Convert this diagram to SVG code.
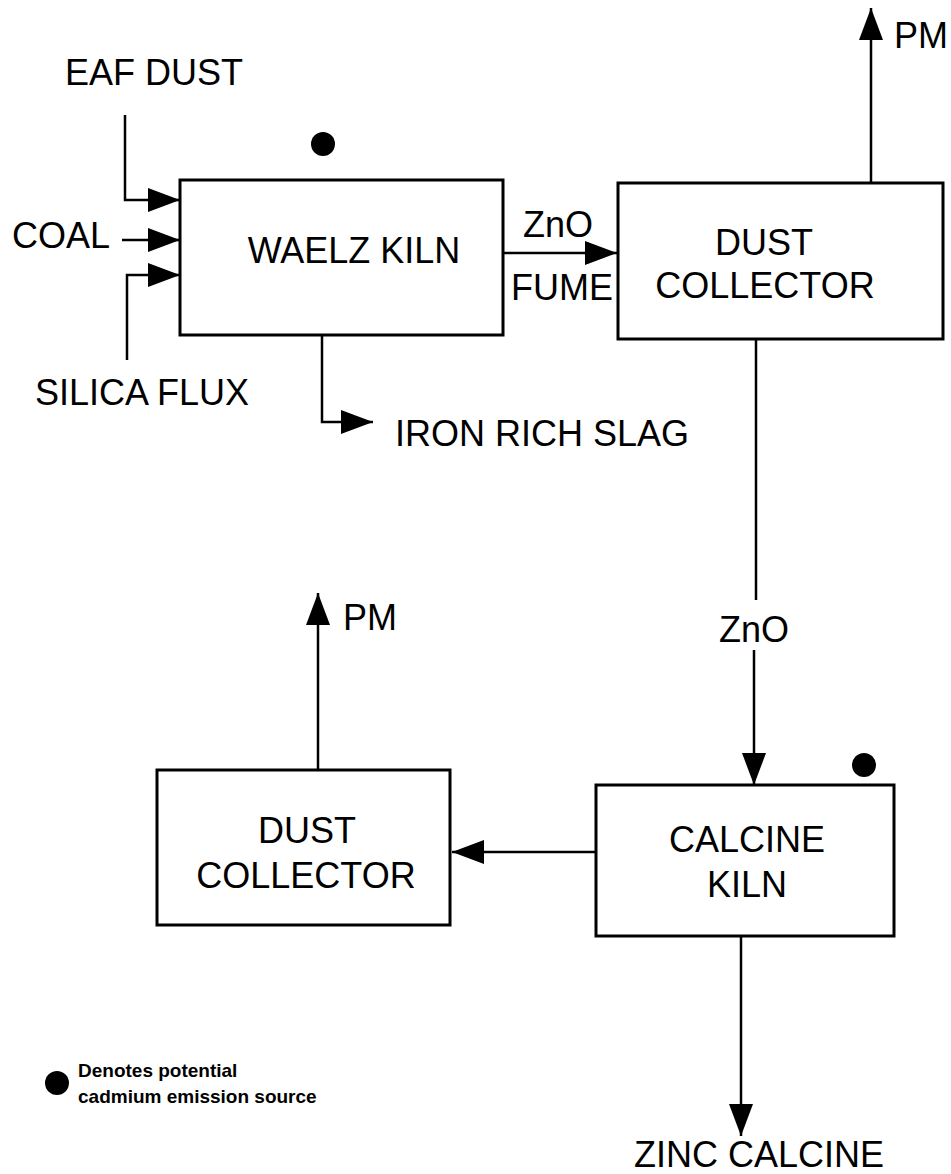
<svg xmlns="http://www.w3.org/2000/svg" width="951" height="1174" viewBox="0 0 951 1174">
<style>
  .box { fill: #fff; stroke: #000; stroke-width: 3; }
  .ln { fill: none; stroke: #000; stroke-width: 2.5; }
  .t { font-family: "Liberation Sans", Arial, sans-serif; font-size: 36px; fill: #000; }
  .c { text-anchor: middle; }
  .leg { font-family: "Liberation Sans", Arial, sans-serif; font-size: 19px; font-weight: bold; fill: #000; }
</style>
<defs>
  <marker id="arr" markerUnits="userSpaceOnUse" markerWidth="33" markerHeight="24" refX="32" refY="12" orient="auto">
    <path d="M0,0 L32,12 L0,24 Z" fill="#000"/>
  </marker>
</defs>
<rect width="951" height="1174" fill="#fff"/>

<g id="connectors">
  <path class="ln" d="M125,115 V200 H180" marker-end="url(#arr)"/>
  <path class="ln" d="M122,240 H180" marker-end="url(#arr)"/>
  <path class="ln" d="M127,360 V275 H180" marker-end="url(#arr)"/>
  <path class="ln" d="M322,335 V422 H373" marker-end="url(#arr)"/>
  <path class="ln" d="M503,253 H617" marker-end="url(#arr)"/>
  <path class="ln" d="M871,183 V8" marker-end="url(#arr)"/>
  <path class="ln" d="M756,340 V600"/>
  <path class="ln" d="M754,650 V785" marker-end="url(#arr)"/>
  <path class="ln" d="M595,852 H452" marker-end="url(#arr)"/>
  <path class="ln" d="M318,770 V593" marker-end="url(#arr)"/>
  <path class="ln" d="M741,936 V1136" marker-end="url(#arr)"/>
</g>

<g id="labels">
  <text class="t" x="65" y="85">EAF DUST</text>
  <text class="t" x="12" y="248">COAL</text>
  <text class="t" x="35" y="405">SILICA FLUX</text>
  <text class="t" x="395" y="446">IRON RICH SLAG</text>
  <text class="t" x="523" y="237">ZnO</text>
  <text class="t" x="511" y="300">FUME</text>
  <text class="t" x="894" y="48">PM</text>
  <text class="t c" x="754" y="642">ZnO</text>
  <text class="t" x="343" y="630">PM</text>
  <text class="t c" x="759" y="1167">ZINC CALCINE</text>
</g>

<g id="waelz-kiln">
  <rect class="box" x="180" y="180" width="323" height="155"/>
  <text class="t c" x="354" y="263">WAELZ KILN</text>
  <circle cx="323" cy="144" r="12" fill="#000"/>
</g>

<g id="dust-collector-1">
  <rect class="box" x="618" y="183" width="325" height="156"/>
  <text class="t c" x="764" y="255">DUST</text>
  <text class="t c" x="765" y="298">COLLECTOR</text>
</g>

<g id="calcine-kiln">
  <rect class="box" x="596" y="785" width="298" height="151"/>
  <text class="t c" x="747" y="852">CALCINE</text>
  <text class="t c" x="747" y="897">KILN</text>
  <circle cx="864" cy="765" r="12" fill="#000"/>
</g>

<g id="dust-collector-2">
  <rect class="box" x="157" y="770" width="293" height="155"/>
  <text class="t c" x="307" y="843">DUST</text>
  <text class="t c" x="306" y="888">COLLECTOR</text>
</g>

<g id="legend">
  <circle cx="57" cy="1083" r="12" fill="#000"/>
  <text class="leg" x="78" y="1077">Denotes potential</text>
  <text class="leg" x="78" y="1103">cadmium emission source</text>
</g>
</svg>
